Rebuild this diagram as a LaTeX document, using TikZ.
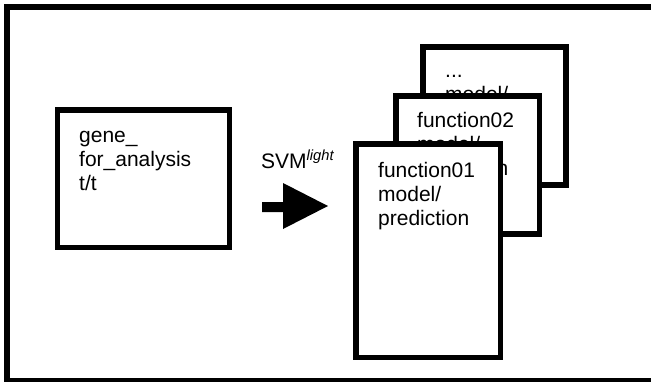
\documentclass[tikz,border=0pt]{standalone}
\usepackage{fontspec}
\setmainfont{Liberation Sans}
\begin{document}
\begin{tikzpicture}[x=1pt,y=-1pt,
  frame/.style={draw=black,line width=6pt},
  card/.style={draw=black,fill=white,line width=5.5pt},
  cardtext/.style={anchor=north west,inner sep=0pt,align=left,
    font=\fontsize{21}{24}\selectfont},
  label/.style={inner sep=0pt,font=\fontsize{21}{24}\selectfont}]
\useasboundingbox (0,0) rectangle (651,381);
\clip (0,0) rectangle (651,381);
\draw[frame] (7,7) rectangle (680,381);
% left input box
\draw[card] (57.5,110) rectangle (229.5,247.5);
\node[cardtext] (gene) at (79,125.2) {\strut gene\_\\for\_analysis\\t/t};
% back card
\draw[card] (423,47) rectangle (566,185);
\node[cardtext] (back) at (445,60.2) {\strut ...\\model/\\prediction};
% middle card
\draw[card] (396,96) rectangle (539.5,234);
\node[cardtext] (mid) at (417,110.2) {\strut function02\\model/\\prediction};
% front card
\draw[card] (356,144) rectangle (500.5,357.5);
\node[cardtext] (front) at (378,160.2) {\strut function01\\model/\\prediction};
% arrow
\fill[black] (262,202) -- (283,202) -- (283,183) -- (328,206) -- (283,229) -- (283,212) -- (262,212) -- cycle;
\node[label,anchor=base west] (svm) at (261,168) {SVM\textsuperscript{\itshape light}};
\end{tikzpicture}
\end{document}
